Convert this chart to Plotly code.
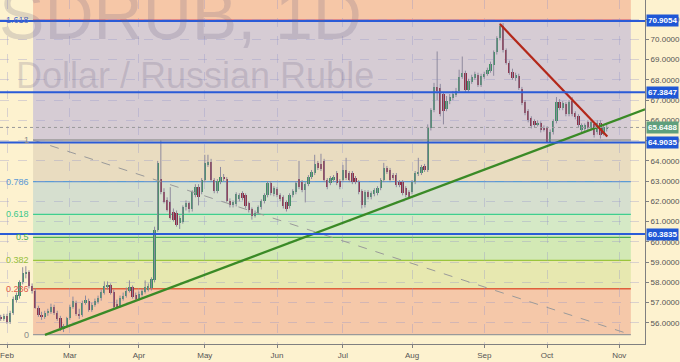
import numpy as np
import pandas as pd
import plotly.graph_objects as go

# ---------------- data ----------------
dates = pd.bdate_range("2018-01-30", "2018-10-26")

open_ = [
    56.25, 56.20,
    56.35, 56.05, 56.50, 57.15, 57.35, 58.00, 58.40, 58.50, 57.80, 57.60,
    56.75, 56.40, 56.30, 56.50, 56.55, 56.80, 56.50, 56.25, 55.70, 55.85,
    56.25, 56.80, 57.00, 56.45, 56.40, 57.00, 57.10, 56.65, 56.90, 57.05,
    57.25, 57.50, 57.75, 57.85, 57.55, 56.95, 56.85, 57.20, 57.35, 57.60, 57.75, 57.40,
    57.20, 57.40, 57.55, 57.65, 57.70, 58.10, 60.60, 63.10, 62.45, 62.05,
    61.95, 61.50, 61.45, 60.95, 61.00, 61.70, 61.90, 61.60, 62.30, 62.70, 62.45,
    63.06, 63.80, 63.95, 63.05, 62.50, 62.95, 63.20, 63.10, 62.00, 61.80,
    61.85, 62.10, 62.40, 62.30, 61.90, 61.60, 61.30, 61.45, 61.70, 62.00, 62.30, 62.90, 62.35,
    62.60, 62.30, 62.20, 61.95, 61.75, 62.30, 62.45, 63.10, 62.95, 62.55,
    62.85, 63.20, 63.40, 63.90, 63.85, 64.00, 63.05, 62.90, 63.05, 63.40, 63.00,
    63.06, 63.55, 63.40, 63.40, 63.15, 62.95, 62.50, 61.80, 62.45, 62.20,
    62.35, 62.40, 62.65, 63.05, 63.65, 63.55, 63.30, 63.30, 62.95, 62.95, 62.65, 62.45,
    62.45, 62.95, 63.35, 63.40, 63.75, 63.55, 65.60, 66.50, 67.65, 67.60,
    67.30, 66.55, 66.95, 67.10, 67.25, 67.45, 68.15, 68.35, 67.50, 67.90, 68.10, 68.25, 67.75,
    68.15, 68.30, 68.45, 68.75, 69.35, 70.05, 70.65, 69.45, 68.85, 68.40,
    68.10, 68.20, 67.55, 66.90, 66.45, 66.10, 65.95, 65.80, 65.85, 65.60,
    65.60, 64.95, 65.40, 65.95, 66.90, 66.60, 66.80, 66.30, 66.95, 66.35,
    66.20, 65.50, 65.55, 65.90, 65.60, 65.80, 65.40, 65.85, 65.35, 65.60,
]
high = [
    56.40, 56.45,
    56.45, 56.60, 57.30, 57.50, 58.10, 58.75, 58.80, 58.60, 57.95, 57.70,
    56.85, 56.55, 56.60, 56.70, 56.95, 56.90, 56.60, 56.35, 55.95, 56.30,
    56.90, 57.30, 57.10, 56.70, 57.10, 57.35, 57.20, 57.00, 57.20, 57.35,
    57.65, 58.05, 58.05, 57.95, 57.65, 57.15, 57.35, 57.50, 57.75, 58.10, 57.85, 57.50,
    57.55, 57.70, 58.10, 57.95, 58.25, 60.75, 64.00, 65.03, 62.65, 62.20,
    62.70, 61.65, 61.55, 61.30, 61.80, 62.05, 62.00, 62.55, 62.85, 62.85, 63.15,
    64.30, 64.30, 64.10, 63.15, 63.10, 63.70, 63.35, 63.20, 62.15, 62.05,
    62.45, 62.40, 62.50, 62.40, 62.00, 61.70, 61.55, 61.80, 62.10, 62.40, 63.00, 63.00, 62.75,
    62.70, 62.40, 62.30, 62.05, 62.40, 62.60, 63.00, 64.00, 63.05, 62.95,
    63.30, 63.55, 64.30, 64.00, 64.35, 64.10, 63.15, 63.25, 63.30, 63.50, 63.10,
    63.80, 64.15, 63.50, 63.50, 63.25, 63.05, 62.60, 62.55, 62.55, 62.50,
    62.65, 62.75, 63.15, 63.90, 63.75, 63.65, 63.40, 63.40, 63.05, 63.05, 62.75, 62.55,
    63.05, 63.50, 64.15, 63.80, 63.85, 65.80, 66.60, 67.85, 69.40, 67.80,
    67.40, 67.20, 67.30, 67.45, 67.60, 68.50, 69.15, 68.45, 68.05, 68.25, 68.40, 68.35, 68.30,
    68.40, 68.60, 68.90, 69.45, 70.15, 70.80, 70.80, 69.55, 68.95, 68.55,
    68.35, 68.30, 67.65, 67.00, 66.55, 66.20, 66.05, 66.00, 65.95, 65.75,
    65.70, 65.55, 66.05, 67.15, 67.05, 66.95, 66.90, 67.00, 67.15, 66.45,
    66.30, 65.85, 65.85, 66.00, 66.00, 65.90, 66.00, 66.00, 65.75, 65.85,
]
low = [
    56.10, 56.10,
    55.95, 55.95, 56.40, 57.00, 57.20, 57.90, 58.20, 57.70, 57.45, 56.70,
    56.30, 56.15, 56.20, 56.35, 56.45, 56.40, 56.10, 55.60, 55.55, 55.75,
    56.15, 56.70, 56.35, 56.20, 56.30, 56.90, 56.55, 56.55, 56.80, 56.95,
    57.10, 57.40, 57.65, 57.40, 56.70, 56.70, 56.75, 57.10, 57.25, 57.50, 57.20, 57.10,
    57.10, 57.30, 57.45, 57.55, 57.60, 58.00, 60.50, 62.35, 61.90, 61.50,
    61.10, 61.00, 60.75, 60.64, 60.90, 61.55, 61.45, 61.50, 62.20, 61.80, 62.35,
    62.95, 63.70, 62.95, 62.40, 62.40, 62.85, 63.00, 61.95, 61.70, 61.70,
    61.75, 62.00, 62.05, 61.65, 61.45, 61.10, 61.20, 61.35, 61.60, 61.90, 62.20, 62.30, 62.25,
    62.20, 62.00, 61.65, 61.50, 61.65, 62.20, 62.35, 62.60, 62.45, 61.95,
    62.75, 63.10, 63.30, 63.55, 63.50, 62.95, 62.60, 62.80, 62.95, 62.80, 62.60,
    62.95, 63.05, 62.95, 62.85, 62.85, 62.35, 61.65, 61.70, 62.10, 62.10,
    62.25, 62.30, 62.55, 62.95, 63.35, 62.95, 63.05, 62.70, 62.70, 62.30, 62.20, 62.15,
    62.35, 62.85, 63.25, 63.30, 63.45, 63.45, 65.50, 66.40, 67.00, 66.20,
    65.80, 66.45, 66.80, 67.00, 67.15, 67.35, 68.05, 67.40, 67.40, 67.80, 68.00, 67.65, 67.65,
    68.05, 68.20, 68.35, 68.20, 69.25, 69.95, 69.35, 68.75, 68.25, 68.00,
    67.95, 67.50, 66.75, 66.25, 65.90, 65.60, 65.65, 65.70, 65.40, 65.45,
    64.90, 64.90, 65.30, 65.85, 66.50, 66.50, 66.20, 66.20, 66.20, 66.05,
    65.65, 65.40, 65.45, 65.50, 65.50, 65.15, 65.30, 65.10, 65.25, 65.45,
]
close = [
    56.20, 56.35,
    56.05, 56.50, 57.20, 57.40, 58.00, 58.45, 58.50, 57.80, 57.60, 56.75,
    56.40, 56.30, 56.50, 56.60, 56.80, 56.50, 56.20, 55.75, 55.85, 56.25,
    56.80, 57.10, 56.45, 56.35, 57.00, 57.15, 56.65, 56.90, 57.10, 57.25,
    57.55, 57.80, 57.85, 57.50, 56.80, 56.80, 57.25, 57.35, 57.60, 57.75, 57.30, 57.20,
    57.45, 57.60, 57.75, 57.80, 58.15, 60.60, 63.90, 62.45, 61.97, 61.58,
    61.20, 61.10, 60.85, 61.20, 61.70, 61.90, 61.60, 62.45, 62.70, 62.20, 63.06,
    63.90, 63.95, 63.06, 62.50, 63.00, 63.20, 63.10, 62.00, 61.80, 61.95,
    62.35, 62.30, 62.15, 61.75, 61.55, 61.30, 61.45, 61.70, 62.00, 62.30, 62.90, 62.40, 62.65,
    62.30, 62.10, 61.75, 61.60, 62.30, 62.50, 62.90, 62.70, 62.55, 62.85,
    63.20, 63.45, 63.85, 63.65, 63.60, 63.05, 62.70, 63.15, 63.20, 62.90, 62.70,
    63.55, 63.15, 63.05, 62.95, 62.95, 62.45, 61.80, 62.45, 62.20, 62.40,
    62.55, 62.65, 63.05, 63.65, 63.45, 63.05, 63.15, 62.80, 62.80, 62.40, 62.30, 62.20,
    62.95, 63.40, 63.45, 63.70, 63.55, 65.60, 66.50, 67.65, 67.45, 66.30,
    66.45, 66.95, 67.15, 67.30, 67.45, 68.15, 68.35, 67.50, 67.95, 68.15, 68.30, 67.75, 68.20,
    68.30, 68.50, 68.80, 69.35, 70.05, 70.65, 69.45, 68.85, 68.35, 68.10,
    68.25, 67.60, 66.85, 66.35, 66.00, 65.70, 65.75, 65.85, 65.50, 65.55,
    64.95, 65.40, 65.95, 66.90, 66.60, 66.85, 66.30, 66.90, 66.30, 66.15,
    65.75, 65.75, 65.75, 65.60, 65.90, 65.30, 65.85, 65.30, 65.65, 65.6488,
]

month_starts = ["2018-02-01", "2018-03-01", "2018-04-02", "2018-05-01", "2018-06-01",
                "2018-07-02", "2018-08-01", "2018-09-03", "2018-10-01", "2018-11-01"]
month_labels = ["Feb", "Mar", "Apr", "May", "Jun", "Jul", "Aug", "Sep", "Oct", "Nov"]

# Fibonacci retracement anchors (x in trading-day units from 1 Feb)
fib_x = [8.3, 198.7]
fib_price = [65.03, 55.42]
fib_levels = [0, 0.236, 0.382, 0.5, 0.618, 0.786, 1, 1.618]
fib_labels = ["0", "0.236", "0.382", "0.5", "0.618", "0.786", "1", "1.618"]

h_levels = [70.9054, 67.3847, 64.9035, 60.3835]

green_trend_x = [12.1, 203.2]
green_trend_y = [55.41, 66.55]
red_trend_x = [157.0, 191.2]
red_trend_y = [70.75, 65.20]

y_ticks = list(range(56, 72))

# ---------------- styling ----------------
BG = "#fdf2cf"
UP = "#3f8f64"
DN = "#8e2d45"
WICK = "#8e8a9e"
fib_line_colors = ["#9a9a9a", "#e0603c", "#9bc53d", "#4caf50", "#3fcf8e", "#5b9bd5", "#9a9a9a", "#e08a8a"]
fib_text_colors = ["#8a8a8a", "#e05a4a", "#95c03a", "#4caf50", "#3cc88a", "#5b9bd5", "#8a8a8a", "#4a68c8"]
zone_colors = ["#f5c8a9", "#e7e8b0", "#d3e9b5", "#d5e9c6", "#d6dfcf", "#e9dcc0", "#d6ccd4", "#f6c7a7"]

Y0, Y1 = 54.96, 71.94
X0, X1 = -2.23, 203.2
PW, PH = 645, 344  # plot area in px

ref = np.datetime64("2018-02-01")
xi = np.busday_count(ref, dates.values.astype("datetime64[D]")).astype(float)
tick_x = np.busday_count(ref, np.array(month_starts, dtype="datetime64[D]"))

o = np.array(open_); h = np.array(high); l = np.array(low); c = np.array(close)
base = np.minimum(o, c)
height = np.maximum(np.abs(c - o), 0.03)
colors = [UP if cc >= oo else DN for oo, cc in zip(o, c)]

wx, wy = [], []
for x, hh, ll in zip(xi, h, l):
    wx += [x, x, None]
    wy += [ll, hh, None]

fig = go.Figure()
fig.add_trace(go.Scatter(x=wx, y=wy, mode="lines", line=dict(color=WICK, width=1),
                         hoverinfo="skip", showlegend=False))
fig.add_trace(go.Bar(x=xi, y=height, base=base, width=0.72, marker=dict(color=colors, line=dict(width=0)),
                     showlegend=False))
fig.add_trace(go.Scatter(x=green_trend_x, y=green_trend_y, mode="lines",
                         line=dict(color="#3a8a26", width=2.2), showlegend=False))
fig.add_trace(go.Scatter(x=red_trend_x, y=red_trend_y, mode="lines",
                         line=dict(color="#b3281a", width=2.2), showlegend=False))

shapes = []
p1, p0 = fib_price[0], fib_price[1]
lvl_vals = [p0 + L * (p1 - p0) for L in fib_levels]
bounds = lvl_vals + [Y1]
for k in range(len(zone_colors)):
    shapes.append(dict(type="rect", xref="x", yref="y", x0=fib_x[0], x1=fib_x[1],
                       y0=bounds[k], y1=bounds[k + 1], fillcolor=zone_colors[k],
                       line=dict(width=0), layer="below"))
for v, col in zip(lvl_vals, fib_line_colors):
    shapes.append(dict(type="line", xref="x", yref="y", x0=fib_x[0], x1=fib_x[1], y0=v, y1=v,
                       line=dict(color=col, width=1.3), layer="below"))
shapes.append(dict(type="line", xref="x", yref="y", x0=fib_x[0], x1=fib_x[1],
                   y0=fib_price[0], y1=fib_price[1], line=dict(color="#9a9a9a", width=1, dash="dash")))
for v in h_levels:
    shapes.append(dict(type="line", xref="paper", yref="y", x0=0, x1=1, y0=v, y1=v,
                       line=dict(color="#2a5bd7", width=2)))
shapes.append(dict(type="line", xref="paper", yref="y", x0=0, x1=1, y0=close[-1], y1=close[-1],
                   line=dict(color="#9a9a9a", width=1, dash="dot")))

ann = []
for v, t, col in zip(lvl_vals, fib_labels, fib_text_colors):
    ann.append(dict(x=fib_x[0], y=v, xref="x", yref="y", text=t, showarrow=False,
                    xanchor="right", yanchor="middle", xshift=-2,
                    font=dict(size=9, color=col, family="Liberation Sans")))
for v in h_levels:
    ann.append(dict(x=1, y=v, xref="paper", yref="y", text=f"<b>{v:.4f}</b>", showarrow=False,
                    xanchor="left", yanchor="middle", xshift=1, bgcolor="#1f57d6", borderpad=1,
                    font=dict(size=8, color="white", family="Liberation Sans")))
ann.append(dict(x=1, y=close[-1], xref="paper", yref="y", text=f"<b>{close[-1]:.4f}</b>", showarrow=False,
                xanchor="left", yanchor="middle", xshift=1, bgcolor="#5e9f7d", borderpad=1,
                font=dict(size=8, color="white", family="Liberation Sans")))
ann.append(dict(x=364 / PW, y=1 - 15 / PH, xref="paper", yref="paper", text="USDRUB, 1D",
                showarrow=False, xanchor="right", yanchor="middle",
                font=dict(size=68, color="rgba(110,100,130,0.22)", family="Liberation Sans")))
ann.append(dict(x=14 / PW, y=1 - 76 / PH, xref="paper", yref="paper", text="Dollar / Russian Ruble",
                showarrow=False, xanchor="left", yanchor="middle",
                font=dict(size=36, color="rgba(110,100,130,0.22)", family="Liberation Sans")))

fig.update_layout(
    width=680, height=362, margin=dict(l=0, r=35, t=0, b=18),
    paper_bgcolor=BG, plot_bgcolor=BG, showlegend=False, bargap=0,
    shapes=shapes, annotations=ann,
    xaxis=dict(range=[X0, X1], tickmode="array", tickvals=tick_x, ticktext=month_labels,
               showgrid=True, gridcolor="rgba(150,150,200,0.35)", griddash="dash", gridwidth=1,
               zeroline=False, showline=True, linecolor="#808080", linewidth=1,
               ticks="outside", ticklen=3, tickcolor="#808080",
               tickfont=dict(size=8, color="#555", family="Liberation Sans")),
    yaxis=dict(range=[Y0, Y1], side="right", tickmode="array", tickvals=y_ticks,
               ticktext=[f"{v:.4f}" for v in y_ticks],
               showgrid=True, gridcolor="rgba(150,150,200,0.35)", griddash="dash", gridwidth=1,
               zeroline=False, showline=True, linecolor="#808080", linewidth=1,
               ticks="outside", ticklen=3, tickcolor="#808080",
               tickfont=dict(size=8, color="#555", family="Liberation Sans")),
)

fig.write_html("out.html", config={"displayModeBar": False},
               post_script="document.body.style.margin='0';document.body.style.padding='0';"
                           "document.body.style.overflow='hidden';")
